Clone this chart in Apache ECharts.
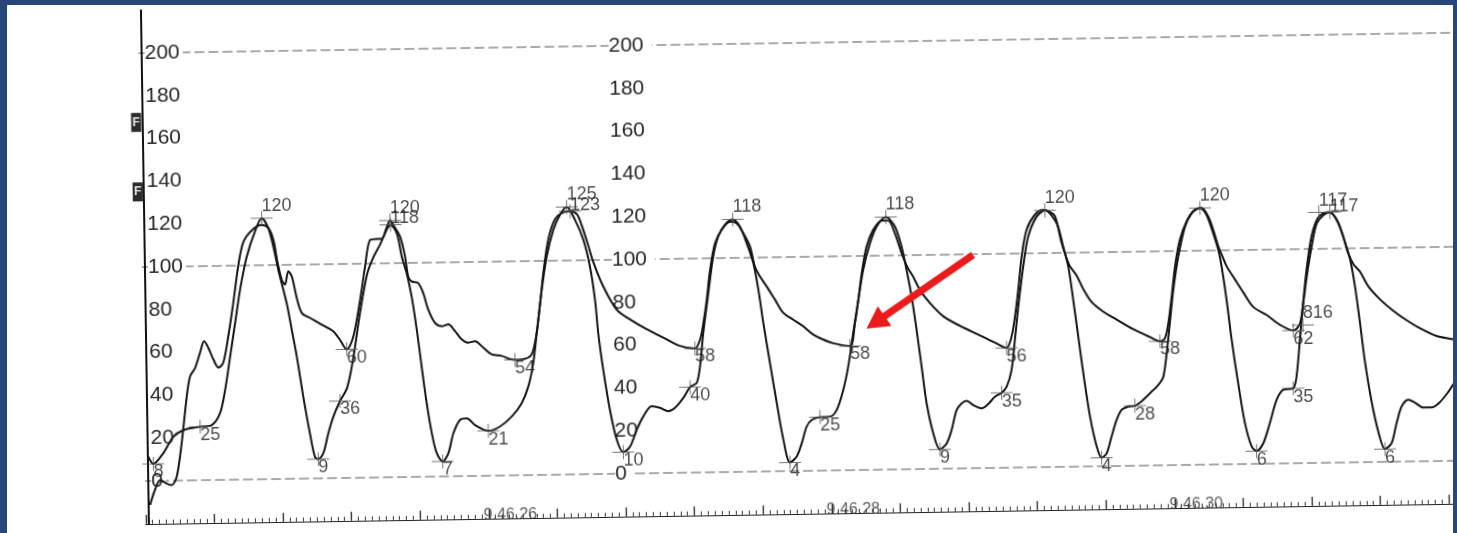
<!DOCTYPE html>
<html>
<head>
<meta charset="utf-8">
<script src="https://cdn.jsdelivr.net/npm/echarts/dist/echarts.min.js"></script>
<style>
  html, body { margin: 0; padding: 0; width: 1457px; height: 533px; overflow: hidden; background: #28467a; }
  #paper { position: absolute; left: 7px; top: 5px; width: 1446px; height: 528px; background: #ffffff; overflow: hidden; }
  #chart { position: absolute; left: -7px; top: -5px; width: 1520px; height: 533px;
           transform-origin: 728.5px 266.5px; transform: rotate(-0.888deg); }
</style>
</head>
<body>
<div id="paper"><div id="chart"></div></div>
<script>
// ---- DATA (time in seconds after 9:46:00, pressure in mmHg) ----
const lvTime = [24.021,24.050,24.109,24.169,24.228,24.326,24.394,24.443,24.475,24.507,
24.539,24.571,24.613,24.664,24.704,24.741,24.769,24.796,24.842,24.869,
24.896,24.930,24.966,24.993,25.012,25.042,25.073,25.104,25.144,25.186,
25.223,25.268,25.313,25.349,25.391,25.421,25.454,25.490,25.517,25.544,
25.571,25.598,25.623,25.649,25.676,25.703,25.737,25.771,25.802,25.842,
25.881,25.929,26.006,26.074,26.144,26.203,26.243,26.274,26.297,26.330,
26.362,26.403,26.443,26.483,26.530,26.577,26.613,26.640,26.656,26.682,
26.717,26.754,26.791,26.831,26.871,26.911,26.961,27.009,27.057,27.096,
27.146,27.186,27.225,27.246,27.268,27.301,27.333,27.364,27.404,27.450,
27.491,27.529,27.566,27.593,27.619,27.654,27.690,27.725,27.762,27.801,
27.832,27.862,27.892,27.941,27.999,28.039,28.079,28.110,28.142,28.175,
28.206,28.248,28.288,28.343,28.395,28.432,28.459,28.486,28.512,28.538,
28.564,28.600,28.637,28.677,28.707,28.738,28.768,28.797,28.835,28.884,
28.923,28.963,29.002,29.032,29.062,29.084,29.107,29.139,29.171,29.222,
29.271,29.338,29.374,29.402,29.428,29.454,29.480,29.515,29.551,29.579,
29.609,29.639,29.670,29.700,29.739,29.778,29.817,29.867,29.916,29.946,
29.968,29.989,30.012,30.044,30.086,30.126,30.175,30.213,30.250,30.278,
30.296,30.322,30.348,30.382,30.418,30.455,30.483,30.523,30.563,30.605,
30.644,30.702,30.723,30.746,30.768,30.791,30.823,30.863,30.913,30.942,
30.980,31.017,31.045,31.071,31.097,31.123,31.158,31.194,31.232,31.271,
31.302,31.333,31.372,31.411,31.459,31.508,31.556,31.606,31.634,31.680];
const lvPressure = [11.4,8,12.9,20.5,23.5,25,25.7,31.1,41.9,57.4,
73,88.6,104.1,116,122,117.4,108.6,97.7,82,69.6,
57.1,38.4,20.9,10,9,11.7,21,28.8,36,42,
55,76.8,95,102.5,108.7,114,118,113.9,103,95.2,
84.3,68.7,51.5,34.4,20.4,11,7,10.8,20.1,26.3,
27,23.8,21,22.9,27.5,33.7,41.4,52.3,66.3,86.5,
102,114.4,121.4,125,119,109.6,97.1,81.3,65.5,48.4,
29.8,15.9,10,12.6,20.4,26.6,31.3,30.5,28.9,30.4,
35,40,41.9,49.6,65.2,83.8,100.9,110.2,115.6,118,
114.6,106.8,97.4,85,69.4,50.7,32,14.9,4,6.7,
12.9,20.6,23.7,25,25.1,28.2,37.5,48.4,64,79.5,
93.5,105.9,113.6,118,113.4,104,93.1,80.6,65,47.8,
30.6,16.6,9,11.8,18,27.3,30.4,31.6,29.5,27.9,
29.9,33.3,35,37.9,45.6,59.6,75.2,93.8,107.8,117.1,
120,113.9,102.9,93.5,77.9,60.7,43.6,23.4,9.4,4,
6,13.8,21.5,26.2,27.7,28,30,33.8,37.6,41.4,
52.3,66.3,81.8,97.3,111.3,117.5,120,116.6,108,100.2,
92.4,76.8,58.1,37.8,19.1,8.1,6,9.6,18.9,29.8,
34.4,35,40.6,57.8,74.9,90.5,106,114.6,117,116.6,
112.2,102.9,95.1,82.7,65.6,47,28.4,14.4,6,8.7,
18,25.8,28.9,27.4,25.1,25.1,27.5,32.2,35.5,40];

const aoTime = [24.027,24.057,24.088,24.126,24.155,24.185,24.217,24.251,24.272,24.302,
24.332,24.357,24.381,24.409,24.438,24.467,24.499,24.531,24.563,24.595,
24.645,24.703,24.742,24.770,24.791,24.815,24.834,24.854,24.874,24.901,
24.929,24.977,25.044,25.111,25.149,25.188,25.227,25.270,25.302,25.333,
25.372,25.403,25.428,25.452,25.471,25.509,25.536,25.553,25.573,25.611,
25.639,25.667,25.705,25.744,25.782,25.821,25.859,25.897,25.936,25.984,
26.032,26.091,26.139,26.168,26.216,26.266,26.297,26.318,26.341,26.373,
26.414,26.461,26.502,26.542,26.569,26.605,26.633,26.689,26.765,26.842,
26.938,27.034,27.131,27.218,27.248,27.269,27.291,27.313,27.344,27.384,
27.434,27.473,27.510,27.548,27.575,27.604,27.642,27.689,27.736,27.794,
27.852,27.909,27.967,28.025,28.122,28.153,28.175,28.197,28.228,28.268,
28.318,28.357,28.394,28.432,28.463,28.497,28.535,28.592,28.669,28.765,
28.881,28.977,29.035,29.065,29.087,29.108,29.131,29.162,29.212,29.261,
29.294,29.329,29.365,29.408,29.450,29.487,29.535,29.602,29.679,29.775,
29.872,29.930,29.959,29.980,30.002,30.024,30.055,30.096,30.140,30.185,
30.222,30.250,30.278,30.297,30.325,30.372,30.420,30.477,30.554,30.631,
30.708,30.747,30.768,30.791,30.822,30.854,30.893,30.932,30.971,31.008,
31.035,31.067,31.102,31.149,31.216,31.292,31.370,31.446,31.543,31.638,
31.690];
const aoPressure = [-11.2,-4.2,0.4,-1.3,-2.1,1.8,17.5,39.3,48.6,52.5,
59.5,64.9,61.8,56.4,52.5,54.8,67.3,82.9,100,111,
116.4,118.8,117.3,111.8,101.7,93.1,90.8,97,94.6,84.5,
77.4,75,71.8,68.6,64.6,60,65.9,83,98.6,111,
111.5,111.5,116,120,117.8,112.3,103,93.6,91.3,90.5,
85.8,78,71.8,70.2,71,67.8,63.9,62.3,63,59.9,
56.7,55.9,54.3,54,54.2,56.5,66.6,79,94.6,110.1,
119.4,122.5,123,121.5,116.3,106.9,99.1,87.6,76.7,72,
67.3,63.3,59.3,58,61.9,69.6,80.5,94.4,106.9,113.1,
116.9,116.1,111.5,105.2,95.8,91.1,86.4,80.2,74,70.7,
67.5,63.6,61.2,59.4,58,68.6,79.5,91.9,104.4,112.1,
116.4,116.3,110.3,100.9,94.6,89.9,83.7,77.5,71.2,66.6,
62,58.1,56,61.2,70.6,83,98.6,111,118,120.2,
119.5,117.2,104.7,94.2,89.3,83,76.8,72.2,68.4,63.8,
60,58,59.3,66.3,78.7,92.7,105.2,113.8,118.9,120,
116,109.8,102,98.1,92.6,86.4,80.2,73.3,69.5,64.8,
62,65.1,74.4,86.9,100.9,111.8,115.7,117,113.3,105.5,
97.7,92.3,89.1,82.2,76,70.6,66,62.2,58.4,56.8,
55.5];

// annotated points [time, pressure, text]
const peakMarks = [[24.704,122,'120'],[25.452,120,'120'],[26.483,125,'125'],[27.450,118,'118'],
  [28.343,118,'118'],[29.271,120,'120'],[30.175,120,'120'],[30.868,117,'117'],[30.765,64.5,'816']];
const peakMarks2 = [[25.454,118,'118'],[26.502,123,'123'],[30.932,117,'117']];
const lowMarks = [
  [24.050,8,'8'],[25.012,9,'9'],[25.737,7,'7'],[26.791,10,'10'],[27.762,4,'4'],
  [28.637,9,'9'],[29.579,4,'4'],[30.483,6,'6'],[31.232,6,'6'],
  [24.326,25,'25'],[25.144,36,'36'],[26.006,21,'21'],[27.186,40,'40'],[27.941,25,'25'],
  [29.002,35,'35'],[29.778,28,'28'],[30.702,35,'35'],
  [25.188,60,'60'],[26.168,54,'54'],[27.218,58,'58'],[28.122,58,'58'],[29.035,56,'56'],
  [29.930,58,'58'],[30.708,62,'62']];
const timeLabels = [[26,'9.46.26'],[28,'9.46.28'],[30,'9.46.30']];
const gridLevels = [0, 100, 200];
const yLabelRange = [0, 200];
const yMin = -20, yMax = 220, yStep = 20;
const tMin = 24, tMax = 32, tStep = 0.4;

// ---- CHART ----
const FONT = "'Liberation Sans', Arial, sans-serif";
const A = 0.888 * Math.PI / 180, CX = 728.5, CY = 266.5;
function toChart(x, y) {
  const dx = x - CX, dy = y - CY;
  return [CX + dx * Math.cos(A) - dy * Math.sin(A), CY + dx * Math.sin(A) + dy * Math.cos(A)];
}
const zip = (t, p) => t.map((v, i) => [v, p[i]]);
const markSymbol = 'path://M0,6.5H22V7.5H0Z M10.5,0H11.5V14H10.5Z';

function markSeries(arr, dy) {
  return {
    type: 'scatter', z: 4, silent: true, symbol: markSymbol, symbolSize: [22, 14], symbolKeepAspect: false,
    itemStyle: { color: '#555' },
    data: arr.map(m => ({ value: [m[0], m[1]], text: m[2] })),
    label: { show: true, position: 'inside', align: 'left', verticalAlign: 'middle', offset: [0, dy],
      formatter: p => p.data.text, fontSize: 18, fontFamily: FONT, color: '#1e1e1e', textBorderWidth: 0 }
  };
}
function yAx(offset, pad, showLine) {
  return {
    type: 'value', min: yMin, max: yMax, interval: yStep, position: 'left', offset: offset, z: 2,
    axisLine: { show: showLine, onZero: false, lineStyle: { color: '#111', width: 2 } },
    axisTick: { show: false }, splitLine: { show: false },
    axisLabel: { inside: true, margin: 3, fontSize: 21, fontFamily: FONT, color: '#262626',
      showMinLabel: false, showMaxLabel: false,
      backgroundColor: '#ffffff', padding: pad,
      formatter: v => (v >= yLabelRange[0] && v <= yLabelRange[1]) ? String(v) : '' }
  };
}

// red arrow (screen coords -> chart coords)
const tip = [866.5, 328.5], tail = [973, 255];
const len = Math.hypot(tail[0] - tip[0], tail[1] - tip[1]);
const d = [(tail[0] - tip[0]) / len, (tail[1] - tip[1]) / len], n = [-d[1], d[0]];
const L = 22, W = 12, w = 3.6;
const P = (a, b) => toChart(tip[0] + a * d[0] + b * n[0], tip[1] + a * d[1] + b * n[1]);
const arrowPts = [P(0, 0), P(L, W), P(L, w), P(len, w), P(len, -w), P(L, -w), P(L, -W)];
const f1 = toChart(131, 113), f2 = toChart(132.5, 182.5);

const chart = echarts.init(document.getElementById('chart'), null, { renderer: 'canvas' });
const PX_PER_S = 171.5, GRID_LEFT = 141.8;
chart.setOption({
  animation: false,
  backgroundColor: 'transparent',
  grid: { left: GRID_LEFT, width: (tMax - tMin) * PX_PER_S, top: 1.2, bottom: 18.2, containLabel: false },
  xAxis: {
    type: 'value', min: tMin, max: tMax, interval: tStep, position: 'bottom',
    axisLine: { show: true, onZero: false, lineStyle: { color: '#222', width: 1.2 } },
    axisTick: { show: true, inside: true, length: 9, lineStyle: { color: '#222', width: 1.3 } },
    minorTick: { show: true, splitNumber: 10, length: 4, lineStyle: { color: '#333', width: 1 } },
    axisLabel: { show: false }, splitLine: { show: false }, minorSplitLine: { show: false }
  },
  yAxis: [yAx(-3.2, [0, 3, 0, 0], true), yAx(-467.2, [0, 8, 0, 0], false)],
  series: [
    { name: 'LV', type: 'line', z: 3, showSymbol: false, smooth: 0.3, silent: true,
      data: zip(lvTime, lvPressure), lineStyle: { color: '#151515', width: 2 },
      markLine: { silent: true, z: 1, symbol: ['none', 'none'], label: { show: false },
        lineStyle: { color: '#8f8f8f', type: [10, 4], width: 1.5 },
        data: gridLevels.map(v => ({ yAxis: v })) } },
    { name: 'Ao', type: 'line', z: 3, showSymbol: false, smooth: 0.3, silent: true,
      data: zip(aoTime, aoPressure), lineStyle: { color: '#151515', width: 2 } },
    markSeries(peakMarks, -12),
    markSeries(peakMarks2, -6),
    markSeries(lowMarks, 8.5),
    { type: 'scatter', z: 4, silent: true, symbolSize: 1, itemStyle: { color: 'transparent' },
      data: timeLabels.map(m => ({ value: [m[0], yMin], name: m[1] })),
      label: { show: true, position: 'inside', align: 'left', verticalAlign: 'middle', offset: [-5, -3],
        formatter: p => p.name, fontSize: 16, fontFamily: FONT, color: '#333', textBorderWidth: 0 } }
  ],
  graphic: [
    { type: 'rect', z: 10, shape: { x: f1[0], y: f1[1], width: 10, height: 19 }, style: { fill: '#2b2b2b' } },
    { type: 'text', z: 11, style: { x: f1[0] + 5, y: f1[1] + 9.5, text: 'F', fill: '#e8e8e8',
        font: 'bold 12px ' + FONT, align: 'center', verticalAlign: 'middle' } },
    { type: 'rect', z: 10, shape: { x: f2[0], y: f2[1], width: 10, height: 19 }, style: { fill: '#2b2b2b' } },
    { type: 'text', z: 11, style: { x: f2[0] + 5, y: f2[1] + 9.5, text: 'F', fill: '#e8e8e8',
        font: 'bold 12px ' + FONT, align: 'center', verticalAlign: 'middle' } },
    { type: 'polygon', z: 12, shape: { points: arrowPts }, style: { fill: '#ec1b1b' } }
  ]
});
</script>
</body>
</html>
